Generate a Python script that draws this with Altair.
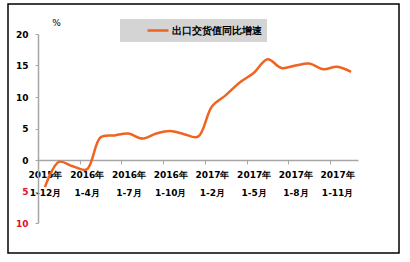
import json
import altair as alt
import pandas as pd

# ---- data ----
categories = [
    "2015年 1-12月",
    "2016年 1-2月", "2016年 1-3月", "2016年 1-4月", "2016年 1-5月", "2016年 1-6月",
    "2016年 1-7月", "2016年 1-8月", "2016年 1-9月", "2016年 1-10月", "2016年 1-11月",
    "2016年 1-12月",
    "2017年 1-2月", "2017年 1-3月", "2017年 1-4月", "2017年 1-5月", "2017年 1-6月",
    "2017年 1-7月", "2017年 1-8月", "2017年 1-9月", "2017年 1-10月", "2017年 1-11月",
    "2017年 1-12月",
]
values = [
    -4.3,
    -0.3, -1.0, -1.5, 3.6, 3.9,
    4.2, 3.4, 4.2, 4.6, 4.1,
    3.7,
    8.5, 10.3, 12.3, 13.8, 16.0,
    14.6, 15.0, 15.3, 14.4, 14.8,
    14.0,
]
series_name = "出口交货值同比增速"
y_ticks = [-10, -5, 0, 5, 10, 15, 20]
label_every = 3

df = pd.DataFrame({
    "idx": list(range(len(categories))),
    "cat": categories,
    "value": values,
    "series": [series_name] * len(categories),
})

# tick positions at category boundaries, labels for every 3rd category
tick_vals = [i - 0.5 for i in range(0, len(categories) - 1, label_every)]
label_pairs = [categories[i].split(" ") for i in range(0, len(categories) - 1, label_every)]
label_expr = json.dumps(label_pairs, ensure_ascii=False) + "[round((datum.value + 0.5) / %d)]" % label_every

W, H = 320, 189
band = W / len(categories)
ORANGE = "#EE6420"
GREY = "#A6A6A6"
FONT = "DejaVu Sans"

x_axis = alt.Axis(
    values=tick_vals,
    labelExpr=label_expr,
    labelOffset=band / 2,
    labelFlush=False,
    labelOverlap=False,
    labelFont=FONT,
    labelFontSize=9,
    labelFontWeight="bold",
    labelColor="black",
    labelLineHeight=18,
    labelPadding=6,
    domainColor=GREY,
    domainWidth=1.5,
    tickColor=GREY,
    tickSize=4,
    grid=False,
    title=None,
    offset=-(H * 10 / 30),
)

y_axis = alt.Axis(
    values=y_ticks,
    labelExpr="'' + abs(datum.value)",
    labelColor={"condition": {"test": "datum.value < 0", "value": "#E0102A"}, "value": "black"},
    labelFont=FONT,
    labelFontSize=9,
    labelFontWeight="bold",
    labelPadding=7,
    domainColor=GREY,
    domainWidth=1.5,
    tickColor=GREY,
    tickSize=3,
    grid=False,
    title="%",
    titleAngle=0,
    titleX=18,
    titleY=-12,
    titleAlign="center",
    titleBaseline="middle",
    titleFont=FONT,
    titleFontSize=9,
    titleFontWeight="normal",
)

line = alt.Chart(df).mark_line(
    interpolate="catmull-rom", strokeWidth=2.5
).encode(
    x=alt.X("idx:Q", scale=alt.Scale(domain=[-0.5, len(categories) - 0.5], nice=False, zero=False), axis=x_axis),
    y=alt.Y("value:Q", scale=alt.Scale(domain=[-10, 20], nice=False), axis=y_axis),
    color=alt.Color(
        "series:N",
        scale=alt.Scale(range=[ORANGE]),
        legend=alt.Legend(
            title=None,
            orient="none",
            legendX=82,
            legendY=-15,
            fillColor="#D4D4D4",
            padding=5,
            clipHeight=13,
            symbolType="stroke",
            symbolStrokeWidth=2.5,
            symbolSize=441,
            symbolOffset=21,
            labelOffset=2,
            labelExpr="datum.label + '\u3000\u3000\u3000'",
            labelFont=FONT,
            labelFontSize=10,
            labelFontWeight="bold",
            labelColor="black",
            labelLimit=300,
        ),
    ),
)

frame = alt.Chart(alt.Data(values=[{"a": 1}])).mark_rect(
    fillOpacity=0, stroke="black", strokeWidth=1.5
).encode(
    x=alt.value(-30), x2=alt.value(361), y=alt.value(-30), y2=alt.value(219)
)

chart = alt.layer(frame, line).properties(
    width=W,
    height=H,
    autosize=alt.AutoSizeParams(type="none"),
    padding={"left": 38, "top": 34, "right": 52, "bottom": 39},
    background="white",
).configure_view(stroke=None)

chart.save("out.html", embed_options={"renderer": "svg", "actions": False})
